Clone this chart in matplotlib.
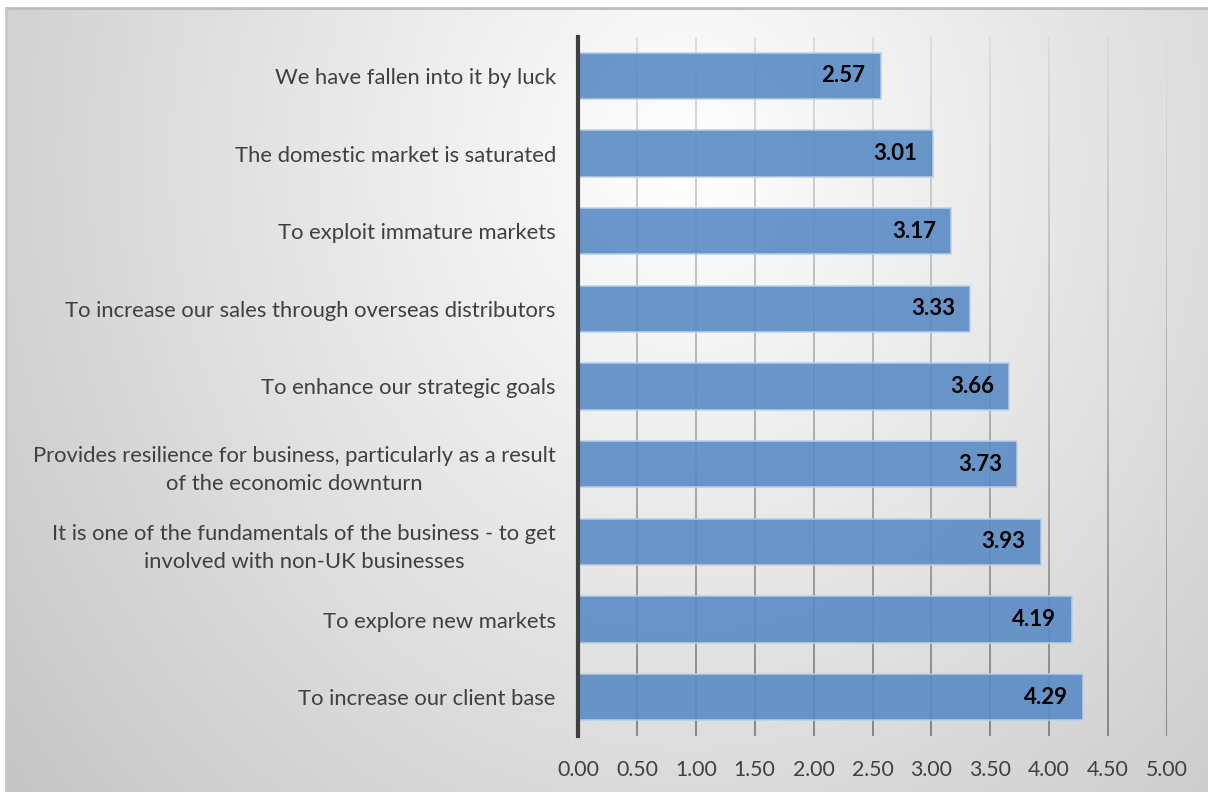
import numpy as np
import matplotlib
matplotlib.use("Agg")
import matplotlib.pyplot as plt
from matplotlib.collections import LineCollection

categories = [
    "We have fallen into it by luck",
    "The domestic market is saturated",
    "To exploit immature markets",
    "To increase our sales through overseas distributors",
    "To enhance our strategic goals",
    "Provides resilience for business, particularly as a result\nof the economic downturn",
    "It is one of the fundamentals of the business - to get\ninvolved with non-UK businesses",
    "To explore new markets",
    "To increase our client base",
]
scores = [2.57, 3.01, 3.17, 3.33, 3.66, 3.73, 3.93, 4.19, 4.29]
x_ticks = [0.0, 0.5, 1.0, 1.5, 2.0, 2.5, 3.0, 3.5, 4.0, 4.5, 5.0]

plt.rcParams["font.family"] = ["Lato", "DejaVu Sans"]

W, H = 1208, 792
fig = plt.figure(figsize=(W / 100, H / 100), dpi=100)
fig.patch.set_facecolor("white")

# Chart area background: soft radial gradient, light near the top centre
bg = fig.add_axes([6 / W, 0, 1 - 6 / W, (H - 8) / H], zorder=0)
yy, xx = np.mgrid[0:H - 8, 0:W - 6]
d = np.sqrt(((xx - 680) / 700.0) ** 2 + ((yy - 150) / 800.0) ** 2)
val = np.clip(1.0 - 0.18 * d, 0.74, 1.0)
bg.imshow(np.dstack([val, val, val]), aspect="auto", interpolation="bilinear")
bg.set_axis_off()
# thin frame along the top and left edges
fig.add_artist(plt.Line2D([6 / W, 1], [(H - 8) / H, (H - 8) / H], color="#bdbdbd", lw=2))
fig.add_artist(plt.Line2D([6 / W, 6 / W], [0, (H - 8) / H], color="#c8c8c8", lw=2))

ax = fig.add_axes([578 / W, 56 / H, (1167 - 578) / W, 699 / H], zorder=1)
ax.patch.set_alpha(0)

n = len(categories)
ypos = np.arange(n)
ax.set_xlim(0, 5)
ax.set_ylim(n - 0.5, -0.5)

# vertical gridlines fading from light at the top to darker at the bottom
for xv in x_ticks[1:]:
    ys = np.linspace(-0.5, n - 0.5, 60)
    segs = [[(xv, ys[i]), (xv, ys[i + 1])] for i in range(len(ys) - 1)]
    t = np.linspace(0, 1, len(segs))
    g = 0.86 - 0.36 * t
    cols = np.column_stack([g, g, g, np.ones_like(g)])
    ax.add_collection(LineCollection(segs, colors=cols, linewidths=1.3, zorder=1))

ax.barh(ypos, scores, height=0.6, color="#5b8bc4", alpha=0.9,
        edgecolor="#b9cfea", linewidth=1.2, zorder=2)

for y, v in zip(ypos, scores):
    ax.annotate(f"{v:.2f}", xy=(v, y), xytext=(-11, 0), textcoords="offset points",
                ha="right", va="center", fontsize=16, fontweight="bold",
                color="black", zorder=3)

ax.set_yticks(ypos)
ax.set_yticklabels(categories, fontsize=15.8, color="#404040")
for lab in ax.get_yticklabels():
    lab.set_multialignment("center")
    lab.set_linespacing(1.5)
ax.tick_params(axis="y", length=0, pad=16)

ax.set_xticks(x_ticks)
ax.set_xticklabels([f"{t:.2f}" for t in x_ticks], fontsize=15.3, color="#404040")
ax.tick_params(axis="x", length=0, pad=17)

for side in ("top", "right", "bottom"):
    ax.spines[side].set_visible(False)
ax.spines["left"].set_color("#404040")
ax.spines["left"].set_linewidth(3)
ax.spines["left"].set_zorder(4)

fig.savefig("out.png", dpi=100)
